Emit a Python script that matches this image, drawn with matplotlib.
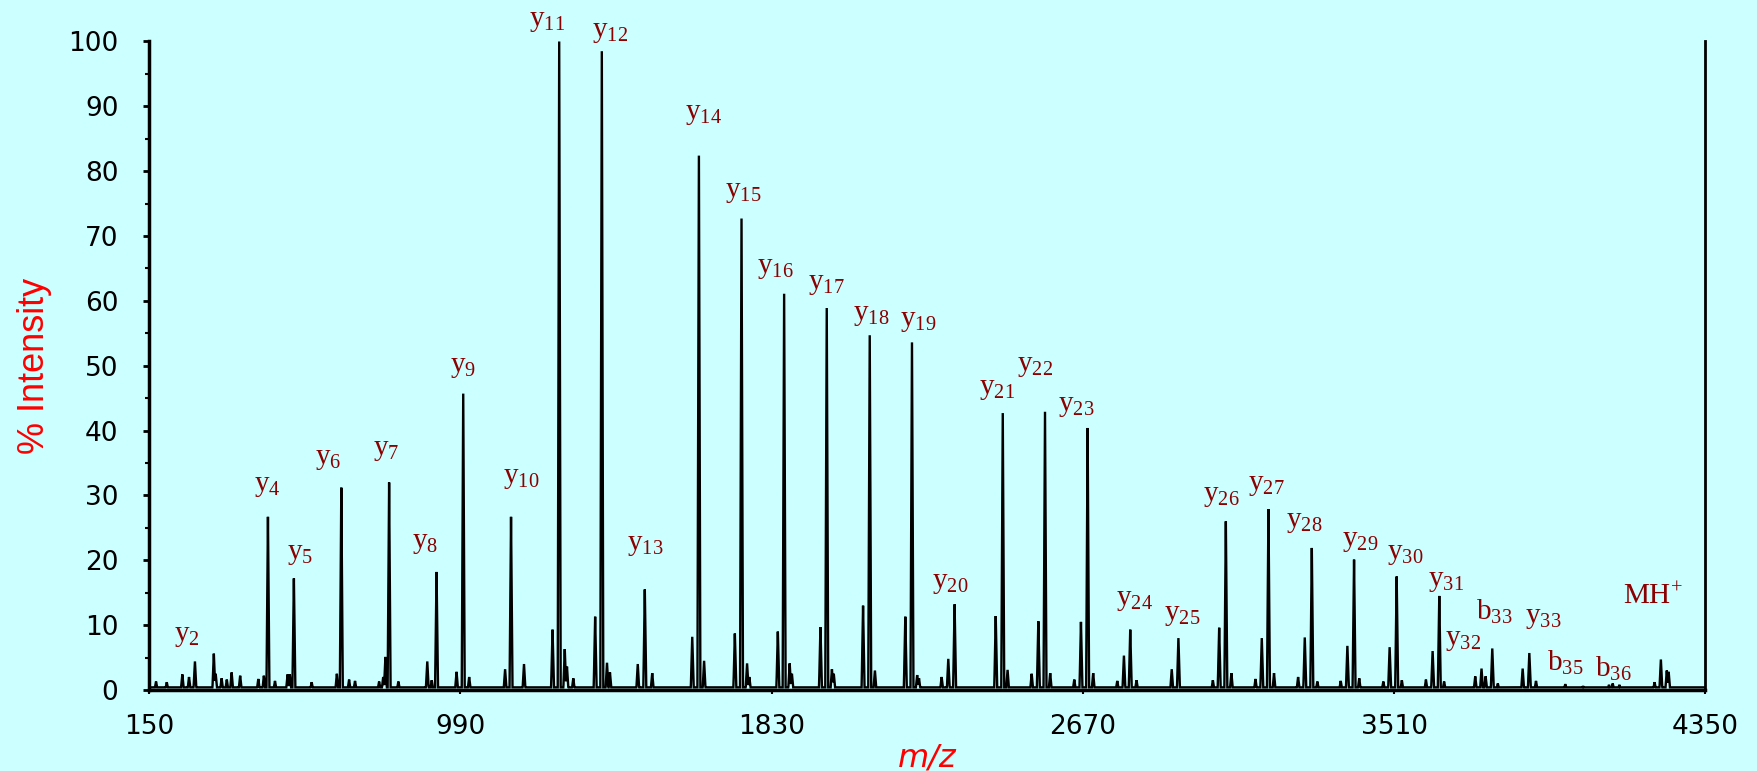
import numpy as np
import matplotlib
matplotlib.use('Agg')
import matplotlib.pyplot as plt

# ============================================================
# Data
# ============================================================
# labelled fragment ions: name, peak m/z, peak intensity (%)
ion_names = ['y2', 'y4', 'y5', 'y6', 'y7', 'y8', 'y9', 'y10', 'y11', 'y12',
             'y13', 'y14', 'y15', 'y16', 'y17', 'y18', 'y19', 'y20', 'y21',
             'y22', 'y23', 'y24', 'y25', 'y26', 'y27', 'y28', 'y29', 'y30',
             'y31', 'y32', 'b33', 'y33', 'b35', 'b36', 'MH+']
ion_mz = [274, 471, 541, 669, 798, 926, 998, 1127, 1257, 1372,
          1488, 1634, 1749, 1864, 1979, 2095, 2209, 2324, 2454,
          2568, 2683, 2798, 2928, 3056, 3171, 3288, 3402, 3517,
          3632, 3746, 3775, 3875, 3972, 4100, 4230]
ion_int = [4.4, 26.7, 17.2, 31.2, 32.0, 18.2, 45.7, 26.7, 100.0, 98.5,
           15.5, 82.4, 72.7, 61.1, 58.9, 54.7, 53.6, 13.2, 42.7,
           42.9, 40.4, 9.3, 8.0, 26.0, 27.9, 21.9, 20.1, 17.5,
           14.5, 3.3, 6.4, 5.7, 0.9, 1.0, 4.7]

# where each ion label sits (m/z, % intensity of text centre)
label_mz = [253, 470, 558, 634, 791, 894, 997, 1154, 1223, 1393,
            1490, 1647, 1753, 1840, 1979, 2100, 2227, 2312, 2439,
            2542, 2651, 2808, 2938, 3044, 3165, 3268, 3419, 3540,
            3649, 3697, 3779, 3912, 3972, 4102, 4208]
label_int = [8.5, 31.6, 21.1, 35.8, 37.1, 22.8, 49.9, 32.8, 103.3, 101.6,
             22.5, 88.9, 77.0, 65.3, 62.7, 58.0, 57.0, 16.6, 46.6,
             50.1, 43.9, 14.0, 11.7, 30.1, 31.8, 26.1, 23.1, 21.1,
             16.9, 7.9, 12.1, 11.2, 4.1, 3.3, 14.5]

# unlabelled peaks (neutral losses, isotopes, noise spikes)
minor_mz = [169, 198, 240, 258, 325, 330, 346, 360, 373, 396, 445, 460, 490,
            524, 530, 589, 657, 690, 706, 771, 782, 788, 823, 901, 913, 980,
            1014, 1111, 1162, 1239, 1272, 1278, 1295, 1354, 1386, 1394, 1469,
            1508, 1616, 1648, 1731, 1764, 1770, 1847, 1879, 1885, 1962, 1993,
            1998, 2077, 2109, 2191, 2223, 2228, 2289, 2307, 2435, 2467, 2532,
            2550, 2582, 2647, 2665, 2698, 2763, 2781, 2815, 2910, 3021, 3038,
            3071, 3136, 3153, 3186, 3251, 3269, 3303, 3366, 3384, 3416, 3481,
            3498, 3531, 3596, 3614, 3645, 3729, 3757, 3790, 3857, 3893, 4020,
            4090, 4118, 4213, 4246, 4251]
minor_int = [1.3, 1.2, 2.4, 2.0, 5.6, 2.5, 1.8, 1.6, 2.7, 2.2, 1.7, 2.2, 1.4,
             2.4, 2.4, 1.2, 2.5, 1.6, 1.4, 1.3, 2.0, 5.1, 1.3, 4.4, 1.5, 2.8,
             2.0, 3.2, 4.0, 9.3, 6.3, 3.6, 1.8, 11.3, 4.2, 2.7, 4.0,
             2.6, 8.2, 4.5, 8.7, 4.1, 2.0, 9.0, 4.1, 2.5, 9.7, 3.2,
             2.5, 13.0, 3.0, 11.3, 2.3, 1.8, 2.0, 4.8, 11.4, 3.1, 2.5,
             10.6, 2.6, 1.6, 10.5, 2.6, 1.4, 5.3, 1.5, 3.2, 1.5, 9.6,
             2.6, 1.7, 8.0, 2.6, 2.0, 8.1, 1.3, 1.4, 6.8, 1.8, 1.3,
             6.6, 1.5, 1.6, 6.0, 1.3, 2.1, 2.1, 1.0, 3.3, 1.4, 0.6,
             0.8, 0.8, 1.2, 3.0, 2.8]

baseline_level = 0.4
x_ticks = [150, 990, 1830, 2670, 3510, 4350]
y_ticks = [0, 10, 20, 30, 40, 50, 60, 70, 80, 90, 100]

BG = '#CCFFFF'
LABEL_RED = '#8B0000'

plt.rcParams['mathtext.fontset'] = 'custom'
plt.rcParams['mathtext.rm'] = 'Liberation Serif'
plt.rcParams['mathtext.it'] = 'Liberation Serif:italic'


def profile(grid, mzs, ints, half_width=4.0):
    """turn stick peaks into a narrow triangular profile on the grid"""
    y = np.full_like(grid, baseline_level)
    for m, h in zip(mzs, ints):
        tri = h * np.clip(1 - np.abs(grid - m) / half_width, 0, None)
        y = np.maximum(y, tri)
    return y


def mathlabel(name):
    if name == 'MH+':
        return r'$\mathrm{MH}^{+}$'
    return r'$\mathrm{%s}_{%s}$' % (name[0], name[1:])


fig = plt.figure(figsize=(17.57, 7.71), dpi=100, facecolor=BG)
ax = fig.add_axes([0.0848, 0.1051, 0.8858, 0.8411], facecolor=BG)

grid = np.arange(150, 4350.25, 0.5)
spec = profile(grid, list(ion_mz) + list(minor_mz), list(ion_int) + list(minor_int))
ax.plot(grid, spec, color='black', lw=1.7, solid_joinstyle='miter')

for name, lx, ly in zip(ion_names, label_mz, label_int):
    ax.text(lx, ly, mathlabel(name), color=LABEL_RED, fontsize=21,
            ha='center', va='center', clip_on=False)

ax.set_xlim(150, 4350)
ax.set_ylim(0, 100)
ax.set_xticks(x_ticks)
ax.set_yticks(y_ticks)
ax.set_yticks(np.arange(5, 100, 10), minor=True)

ax.spines['top'].set_visible(False)
ax.spines['left'].set_linewidth(2.5)
ax.spines['bottom'].set_linewidth(2.5)
ax.spines['right'].set_linewidth(2.0)

ax.tick_params(axis='y', which='major', length=4, width=2, pad=18,
               labelsize=19)
ax.tick_params(axis='y', which='minor', length=3, width=1.5)
ax.tick_params(axis='x', which='major', length=3, width=1.5, pad=14,
               labelsize=19)
for lab in ax.get_xticklabels() + ax.get_yticklabels():
    lab.set_fontfamily('DejaVu Sans')

ax.set_ylabel('% Intensity', color='red', fontsize=26,
              fontfamily='Liberation Sans', labelpad=12)
ax.set_xlabel('m/z', color='red', fontsize=23, fontstyle='italic',
              fontfamily='DejaVu Sans', labelpad=2)

fig.savefig('out.png', dpi=100, facecolor=BG)
